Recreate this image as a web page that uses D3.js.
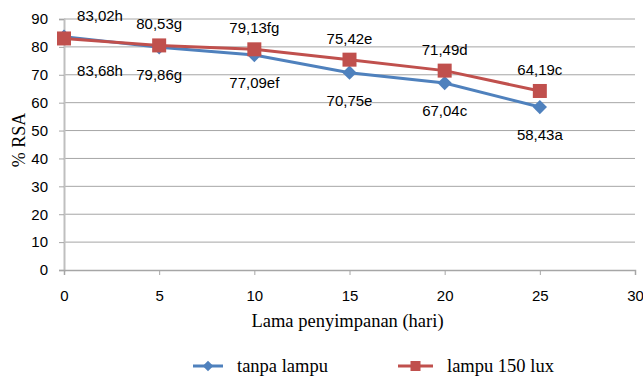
<!DOCTYPE html>
<html>
<head>
<meta charset="utf-8">
<script src="https://cdn.jsdelivr.net/npm/d3@7"></script>
<style>
  body { margin: 0; background: #fff; }
  svg { display: block; }
</style>
</head>
<body>
<div id="chart"></div>
<script>
const days = [0, 5, 10, 15, 20, 25];
const tanpaLampu = [83.68, 79.86, 77.09, 70.75, 67.04, 58.43];
const tanpaLabels = ['83,68h', '79,86g', '77,09ef', '70,75e', '67,04c', '58,43a'];
const lampu150 = [83.02, 80.53, 79.13, 75.42, 71.49, 64.19];
const lampuLabels = ['83,02h', '80,53g', '79,13fg', '75,42e', '71,49d', '64,19c'];
const xTicks = [0, 5, 10, 15, 20, 25, 30];
const yTicks = [0, 10, 20, 30, 40, 50, 60, 70, 80, 90];

const w = 643, h = 376;
const padL = 64, padR = 635, padT = 19, padB = 270;
const blue = '#4f81bd', red = '#c0504d';
const sans = '"Liberation Sans", Arial, sans-serif';
const serif = '"Liberation Serif", "Times New Roman", serif';

const svg = d3.select('#chart').append('svg')
  .attr('width', w).attr('height', h);

const x = d3.scaleLinear().domain([0, 30]).range([padL, padR]);
const y = d3.scaleLinear().domain([0, 90]).range([padB, padT]);

// gridlines
svg.append('g')
  .selectAll('line')
  .data(yTicks.filter(d => d > 0))
  .enter().append('line')
  .attr('x1', padL).attr('x2', padR)
  .attr('y1', d => y(d)).attr('y2', d => y(d))
  .attr('stroke', '#a6a6a6').attr('stroke-width', 1);

const yAxis = svg.append('g')
  .attr('transform', `translate(${padL},0)`)
  .call(d3.axisLeft(y).tickValues(yTicks).tickSize(5).tickPadding(11));
yAxis.select('.domain').attr('stroke', '#bfbfbf').attr('stroke-width', 2);
yAxis.selectAll('.tick line').attr('stroke', '#a6a6a6');
yAxis.selectAll('text').attr('font-family', sans).attr('font-size', 15).attr('fill', '#000');

const xAxis = svg.append('g')
  .attr('transform', `translate(0,${padB})`)
  .call(d3.axisBottom(x).tickValues(xTicks).tickSize(5).tickPadding(15));
xAxis.select('.domain').attr('stroke', '#a6a6a6').attr('stroke-width', 1.5);
xAxis.selectAll('.tick line').attr('stroke', '#a6a6a6');
xAxis.selectAll('text').attr('font-family', sans).attr('font-size', 15).attr('fill', '#000');

// axis titles
svg.append('text')
  .attr('x', (padL + padR) / 2 - 2).attr('y', 327)
  .attr('text-anchor', 'middle')
  .attr('font-family', serif).attr('font-size', 18.5)
  .text('Lama penyimpanan (hari)');

svg.append('text')
  .attr('transform', `translate(25,140) rotate(-90)`)
  .attr('text-anchor', 'middle')
  .attr('font-family', serif).attr('font-size', 18)
  .text('% RSA');

const line = d3.line().x((d, i) => x(days[i])).y(d => y(d));

// series: tanpa lampu
svg.append('path').datum(tanpaLampu)
  .attr('d', line).attr('fill', 'none')
  .attr('stroke', blue).attr('stroke-width', 3);
svg.append('g').selectAll('path')
  .data(tanpaLampu).enter().append('path')
  .attr('d', d3.symbol(d3.symbolDiamond2, 130)())
  .attr('transform', (d, i) => `translate(${x(days[i])},${y(d)})`)
  .attr('fill', blue);

// series: lampu 150 lux
svg.append('path').datum(lampu150)
  .attr('d', line).attr('fill', 'none')
  .attr('stroke', red).attr('stroke-width', 3);
svg.append('g').selectAll('rect')
  .data(lampu150).enter().append('rect')
  .attr('x', (d, i) => x(days[i]) - 7)
  .attr('y', d => y(d) - 7)
  .attr('width', 14).attr('height', 14)
  .attr('fill', red);

// data labels
svg.append('g').selectAll('text')
  .data(lampu150).enter().append('text')
  .attr('x', (d, i) => x(days[i]) + (i === 0 ? 36 : 0))
  .attr('y', (d, i) => y(d) - (i === 0 ? 17 : 16))
  .attr('text-anchor', 'middle')
  .attr('font-family', sans).attr('font-size', 15)
  .text((d, i) => lampuLabels[i]);

svg.append('g').selectAll('text')
  .data(tanpaLampu).enter().append('text')
  .attr('x', (d, i) => x(days[i]) + (i === 0 ? 36 : 0))
  .attr('y', (d, i) => y(d) + (i === 0 ? 39 : 33))
  .attr('text-anchor', 'middle')
  .attr('font-family', sans).attr('font-size', 15)
  .text((d, i) => tanpaLabels[i]);

// legend
const legend = [
  { name: 'tanpa lampu', color: blue, x0: 193, x1: 223, tx: 237, shape: 'diamond' },
  { name: 'lampu 150 lux', color: red, x0: 398, x1: 433, tx: 447, shape: 'square' }
];
const lg = svg.append('g').attr('transform', 'translate(0,366)');
legend.forEach(l => {
  lg.append('line').attr('x1', l.x0).attr('x2', l.x1)
    .attr('stroke', l.color).attr('stroke-width', 3);
  const cx = (l.x0 + l.x1) / 2;
  if (l.shape === 'diamond') {
    lg.append('path').attr('d', d3.symbol(d3.symbolDiamond2, 70)())
      .attr('transform', `translate(${cx},0)`).attr('fill', l.color);
  } else {
    lg.append('rect').attr('x', cx - 5).attr('y', -5)
      .attr('width', 10).attr('height', 10).attr('fill', l.color);
  }
  lg.append('text').attr('x', l.tx).attr('y', 6)
    .attr('font-family', serif).attr('font-size', 18.5)
    .text(l.name);
});
</script>
</body>
</html>
